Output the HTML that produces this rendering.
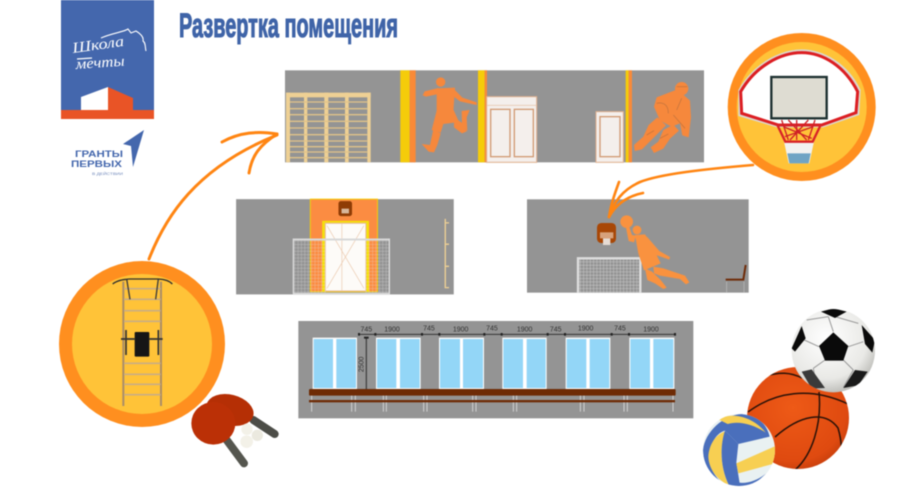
<!DOCTYPE html>
<html lang="ru">
<head>
<meta charset="utf-8">
<title>Развертка помещения</title>
<style>
html,body{margin:0;padding:0;background:#fff;width:900px;height:501px;overflow:hidden}
svg{display:block;filter:blur(.5px)}
text{font-family:"Liberation Sans",sans-serif}
</style>
</head>
<body>
<svg width="900" height="501" viewBox="0 0 900 501" xmlns="http://www.w3.org/2000/svg">
<defs>
<pattern id="gridA" width="10" height="10" patternUnits="userSpaceOnUse">
<path d="M0 0H10M0 0V10" stroke="#e8e8e8" stroke-width="2.2" fill="none"/>
</pattern>
<radialGradient id="sb" cx=".42" cy=".35" r=".75"><stop offset="0" stop-color="#ffffff"/><stop offset=".65" stop-color="#e9e9e6"/><stop offset="1" stop-color="#a9a9a4"/></radialGradient>
<radialGradient id="bb" cx=".45" cy=".4" r=".7"><stop offset="0" stop-color="#ee5a17"/><stop offset=".75" stop-color="#df4a10"/><stop offset="1" stop-color="#b93708"/></radialGradient>
<clipPath id="vc"><circle cx="132" cy="450" r="108"/></clipPath>
<clipPath id="sc"><circle cx="415" cy="152" r="125"/></clipPath>
<clipPath id="bc"><circle cx="798" cy="418" r="51"/></clipPath>
</defs>

<!-- Logo -->
<rect x="61" y="0" width="93" height="110" fill="#4467ad"/>
<rect x="61" y="110" width="93" height="9" fill="#e95426"/>
<polygon points="81,97 108,87 108,110 81,110" fill="#fff"/>
<polygon points="108,87 133,98 133,110 108,110" fill="#e95426"/>
<path d="M101 38C112 33 124 32 128 29L131 33 136 31C141 34 144 37 143 41 146 43 145 48 146 51" fill="none" stroke="#fff" stroke-width="1.1"/>
<text x="73" y="53" font-size="15" fill="#fff" font-style="italic" style="font-family:'Liberation Serif',serif" textLength="52" lengthAdjust="spacingAndGlyphs" transform="rotate(-8 73 53)">Школа</text>
<text x="76" y="69" font-size="15" fill="#fff" font-style="italic" style="font-family:'Liberation Serif',serif" textLength="49" lengthAdjust="spacingAndGlyphs" transform="rotate(-4 76 69)">мечты</text>
<path d="M77 59L92 58" stroke="#fff" stroke-width="1.2"/>

<!-- Grants -->
<path d="M144 130L123 144 131 146 133 167Z" fill="#4467ad"/>
<text x="75" y="157" font-size="9" font-weight="bold" fill="#4467ad" textLength="48" lengthAdjust="spacingAndGlyphs">ГРАНТЫ</text>
<text x="71" y="167" font-size="9" font-weight="bold" fill="#4467ad" textLength="51" lengthAdjust="spacingAndGlyphs">ПЕРВЫХ</text>
<text x="92" y="175" font-size="4" fill="#6f87ba" textLength="31" lengthAdjust="spacingAndGlyphs">В ДЕЙСТВИИ</text>

<!-- Title -->
<text x="179" y="37" font-size="34" font-weight="bold" fill="#3f64a8" stroke="#3f64a8" stroke-width="1.1" textLength="219" lengthAdjust="spacingAndGlyphs">Развертка помещения</text>

<!-- Top panel -->
<g transform="translate(280 60) scale(.33333)">
<rect x="15" y="31" width="1257" height="276" fill="#949494"/>
<rect x="361" y="31" width="28" height="276" fill="#f5cc0a"/><rect x="389" y="31" width="18" height="276" fill="#f98a38"/>
<rect x="594" y="31" width="20" height="276" fill="#f5cc0a"/><rect x="614" y="31" width="7" height="276" fill="#f98a38"/>
<rect x="1037" y="31" width="9" height="276" fill="#f5cc0a"/><rect x="1046" y="31" width="10" height="276" fill="#f98a38"/>
<g fill="#eed094">
<rect x="18" y="98" width="254" height="14"/>
<rect x="18" y="98" width="12" height="209"/><rect x="72" y="98" width="10" height="209"/><rect x="133" y="98" width="12" height="209"/><rect x="195" y="98" width="11" height="209"/><rect x="262" y="98" width="10" height="209"/>
</g>
<g stroke="#e0c288" stroke-width="4">
<path d="M30 126H262M30 146H262M30 164H262M30 184H262M30 204H262M30 224H262M30 243H262M30 260H262M30 276H262M30 293H262"/>
</g>
<rect x="620" y="110" width="150" height="197" fill="#f4efec" stroke="#e0b08e" stroke-width="3"/>
<path d="M622 136H768" stroke="#e8cdb8" stroke-width="3"/>
<rect x="632" y="148" width="58" height="142" fill="#f4efec" stroke="#d19a74" stroke-width="4"/>
<rect x="703" y="148" width="57" height="142" fill="#f4efec" stroke="#d19a74" stroke-width="4"/>
<rect x="948" y="155" width="82" height="152" fill="#f4efec" stroke="#e0b08e" stroke-width="3"/>
<rect x="960" y="170" width="60" height="120" fill="#f4efec" stroke="#d19a74" stroke-width="4"/>
<g fill="#f6883c">
<circle cx="482" cy="66" r="14"/>
<path d="M470 85L525 83 520 155 470 157Z"/>
<path d="M475 84L434 94 428 106 438 110 476 102Z"/>
<path d="M520 85L547 113 590 127 590 135 540 124 515 105Z"/>
<path d="M470 152L520 148 537 186 490 192 482 218 455 210Z"/>
<path d="M460 208L482 220 472 255 462 277 446 275 425 252 450 255Z"/>
<path d="M522 172L545 188 560 214 546 220 522 202Z"/>
<path d="M545 153L569 150 560 172 562 214 546 195Z"/>
<path d="M1130 112L1192 88 1230 122 1233 172 1226 232 1207 226 1200 190 1175 200 1140 182 1122 140Z"/>
<circle cx="1205" cy="86" r="20"/>
<path d="M1132 172L1158 196 1122 232 1086 268 1064 273 1062 255 1090 230 1106 195Z"/>
<path d="M1180 194L1197 212 1170 236 1150 266 1122 279 1112 262 1135 245 1150 210Z"/>
</g>
<g fill="none" stroke="#c9763c" stroke-width="2.5">
<path d="M1190 80H1222M1130 130C1150 125 1165 135 1165 160M1180 165L1215 205M1205 115L1190 150M1100 225L1122 212M1140 235L1165 222"/>
</g>
</g>

<!-- Middle left panel -->
<g transform="translate(230 190) scale(.339)">
<rect x="18" y="27" width="642" height="281" fill="#949494"/>
<rect x="237" y="27" width="198" height="273" fill="#fb8c42" stroke="#f5cc0a" stroke-width="3"/>
<rect x="272" y="91" width="138" height="209" fill="#f5e10a"/>
<rect x="281" y="98" width="120" height="200" fill="#fdfbf8" stroke="#e6b690" stroke-width="3"/>
<path d="M330 98V298M286 290L395 105M286 105L395 290" stroke="#eccbb0" stroke-width="2" fill="none"/>
<rect x="187" y="143" width="95" height="165" fill="url(#gridA)" opacity=".6"/>
<rect x="400" y="143" width="70" height="165" fill="url(#gridA)" opacity=".6"/>
<path d="M187 146H470M187 306H470" stroke="#d8d8d8" stroke-width="6"/>
<path d="M187 143V308M470 143V308" stroke="#dcdcdc" stroke-width="4" fill="none"/>
<rect x="320" y="33" width="40" height="44" rx="7" fill="#8f3c05"/>
<rect x="329" y="55" width="22" height="14" fill="#d8b79b"/>
<path d="M635 85V290M635 97H646M635 160H646M635 225H646M635 288H646" stroke="#eed094" stroke-width="4" fill="none"/>
</g>

<!-- Middle right panel -->
<g transform="translate(570 165) scale(.33333)">
<rect x="-129" y="103" width="665" height="280" fill="#949494"/>
<rect x="24" y="278" width="187" height="105" fill="url(#gridA)" opacity=".8"/>
<path d="M24 383V280H211V383" stroke="#dedede" stroke-width="7" fill="none"/>
<rect x="81" y="174" width="57" height="60" rx="13" fill="#a84706"/>
<rect x="90" y="202" width="40" height="18" fill="#d7a27c"/>
<rect x="99" y="220" width="22" height="20" fill="#e6dcd4"/>
<g fill="#f9923f">
<circle cx="170" cy="170" r="19"/>
<circle cx="201" cy="195" r="13"/>
<path d="M168 188L178 186 186 210 198 212 192 232 176 228Z"/>
<path d="M195 210L225 208 245 240 272 295 222 316 205 265Z"/>
<path d="M230 214L268 258 300 276 298 284 258 270 238 248Z"/>
<path d="M250 305L280 310 345 332 358 352 348 358 330 342 270 332 252 325Z"/>
<path d="M225 310L246 320 272 345 290 368 280 372 255 355 232 345Z"/>
</g>
<path d="M467 344H520L527 300" stroke="#6e2b08" stroke-width="6" fill="none"/>
<path d="M470 350V383M522 350V383" stroke="#bdbdbd" stroke-width="2"/>
</g>

<!-- Bottom panel -->
<g transform="translate(295 315) scale(.33333)">
<rect x="10" y="18" width="1185" height="292" fill="#949494"/>
<g fill="#fff">
<rect x="53" y="68" width="133" height="154"/><rect x="243" y="68" width="134" height="154"/><rect x="432" y="68" width="135" height="154"/><rect x="622" y="68" width="133" height="154"/><rect x="812" y="68" width="134" height="154"/><rect x="1003" y="68" width="135" height="154"/>
</g>
<g fill="#93d6f7">
<rect x="56" y="72" width="58" height="147"/><rect x="124" y="72" width="59" height="147"/>
<rect x="246" y="72" width="58" height="147"/><rect x="315" y="72" width="59" height="147"/>
<rect x="435" y="72" width="60" height="147"/><rect x="504" y="72" width="60" height="147"/>
<rect x="625" y="72" width="59" height="147"/><rect x="695" y="72" width="57" height="147"/>
<rect x="815" y="72" width="59" height="147"/><rect x="884" y="72" width="59" height="147"/>
<rect x="1006" y="72" width="59" height="147"/><rect x="1075" y="72" width="60" height="147"/>
</g>
<rect x="42" y="222" width="1100" height="20" rx="4" fill="#6e2b05"/>
<rect x="42" y="255" width="1098" height="7" fill="#6e2b05"/>
<g stroke="#dcdcdc" stroke-width="2.5">
<path d="M50 242V255M50 262V290M170 242V255M170 262V290M181 242V255M181 262V290M265 242V255M265 262V290M274 242V255M274 262V290M386 242V255M386 262V290M396 242V255M396 262V290M533 242V255M533 262V290M543 242V255M543 262V290M655 242V255M655 262V290M665 242V255M665 262V290M856 242V255M856 262V290M867 242V255M867 262V290M987 242V255M987 262V290M997 242V255M997 262V290M1134 242V255M1134 262V290"/>
</g>
<path d="M190 58H1140" stroke="#333" stroke-width="3"/>
<g fill="#222"><rect x="189" y="54" width="6" height="8"/><rect x="238" y="54" width="6" height="8"/><rect x="378" y="54" width="6" height="8"/><rect x="430" y="54" width="6" height="8"/><rect x="565" y="54" width="6" height="8"/><rect x="617" y="54" width="6" height="8"/><rect x="755" y="54" width="6" height="8"/><rect x="807" y="54" width="6" height="8"/><rect x="947" y="54" width="6" height="8"/><rect x="999" y="54" width="6" height="8"/><rect x="1137" y="54" width="6" height="8"/></g>
<path d="M214 66V222" stroke="#444" stroke-width="4"/>
<rect x="207" y="65" width="14" height="6" fill="#222"/>
<g font-size="21" fill="#333" text-anchor="middle">
<text x="214" y="50">745</text><text x="291" y="50">1900</text><text x="402" y="47">745</text><text x="497" y="50">1900</text><text x="591" y="47">745</text><text x="689" y="50">1900</text><text x="782" y="50">745</text><text x="872" y="47">1900</text><text x="975" y="47">745</text><text x="1068" y="50">1900</text>
</g>
<text transform="translate(205 148) rotate(-90)" font-size="21" fill="#333" text-anchor="middle">2500</text>
</g>

<!-- Left circle -->
<circle cx="142" cy="344" r="83" fill="#ff8f1f"/>
<circle cx="142" cy="344" r="70" fill="#ffc338"/>
<g transform="translate(50 260) scale(.33333)">
<path d="M220 65V438M333 65V438" stroke="#a98d68" stroke-width="6" fill="none"/>
<path d="M222 86H332M222 118H332M222 152H332M222 184H332M222 310H332M222 343H332M222 373H332M222 404H332" stroke="#c9ad83" stroke-width="5" fill="none"/>
<path d="M188 72C200 62 215 58 240 57H325C345 58 358 62 367 72" stroke="#2e2e2e" stroke-width="4" fill="none"/>
<path d="M230 57L240 118M325 57L317 118" stroke="#3a3a3a" stroke-width="4" fill="none"/>
<rect x="254" y="216" width="44" height="74" rx="3" fill="#161616"/>
<path d="M213 237H254M298 237H338M228 210V285M325 210V285" stroke="#333" stroke-width="5" fill="none"/>
</g>

<!-- Rackets -->
<g transform="translate(50 260) scale(.33333)">
<path d="M610 480L674 522" stroke="#4c4d47" stroke-width="24" stroke-linecap="round"/>
<ellipse cx="540" cy="450" rx="72" ry="46" fill="#b52f05" transform="rotate(14 540 450)"/>
<path d="M530 540L582 610" stroke="#55564f" stroke-width="24" stroke-linecap="round"/>
<ellipse cx="490" cy="490" rx="66" ry="64" fill="#bb3006"/>
<circle cx="591" cy="508" r="17" fill="#f3f1e8"/><circle cx="622" cy="526" r="17" fill="#ebe9df"/><circle cx="590" cy="545" r="19" fill="#f3f1e8"/>
</g>

<!-- Right circle / hoop -->
<circle cx="801.7" cy="107" r="74" fill="#ff8f1f"/>
<circle cx="801.7" cy="107" r="65" fill="#ffc338"/>
<g transform="translate(700 30) scale(.33333)">
<path d="M115 180C160 100 240 58 305 58 370 58 445 100 482 180L478 255 370 292H230L115 258Z" fill="#dad7d0"/>
<path d="M122 185C165 110 240 68 305 68 370 68 435 110 473 185L468 248 365 285H235L125 250Z" fill="#fff" stroke="#dc1e22" stroke-width="9"/>
<rect x="214" y="141" width="166" height="124" fill="#dedcd2" stroke="#1d3030" stroke-width="7"/>
<path d="M252 335H342L328 400H266Z" fill="#f2f2f0"/>
<path d="M262 370H332L326 400H268Z" fill="#6fa4c4"/>
<path d="M232 285H362L338 335H256Z" fill="none" stroke="#d82328" stroke-width="7"/>
<path d="M245 270L265 330M290 270V330M345 270L325 330M255 320L340 290M250 290L335 325M265 270L320 330M325 270L270 330" stroke="#cf2026" stroke-width="4" fill="none"/>
</g>

<!-- Arrows -->
<g fill="none" stroke="#ff8512" stroke-linecap="round">
<path d="M149 259C165 218 195 168 277 135" stroke-width="3"/>
<path d="M222 142C240 132 258 131 277 134" stroke-width="3"/>
<path d="M249 173C252 155 260 145 277 134" stroke-width="3"/>
<path d="M753 165C705 169 660 174 640 182 622 190 614 202 609 217" stroke-width="2.6"/>
<path d="M619 182C615 193 611 204 609 217" stroke-width="2.6"/>
<path d="M643 193C628 196 616 204 609 217" stroke-width="2.6"/>
</g>

<!-- Basketball -->
<circle cx="798" cy="418" r="51" fill="url(#bb)"/>
<g clip-path="url(#bc)" fill="none" stroke="#2a1208" stroke-width="1.5">
<path d="M748 412C775 392 810 386 848 404"/>
<path d="M775 437C800 415 825 410 838 428 843 445 842 458 840 468"/>
<path d="M819 392C822 425 812 455 795 470"/>
<path d="M765 376C780 372 790 372 802 378"/>
</g>

<g transform="translate(695 300) scale(.33333)">
<!-- Soccer -->
<circle cx="415" cy="152" r="125" fill="url(#sb)"/>
<g clip-path="url(#sc)">
<path d="M415 95L400 50M460 140L505 125M445 180L475 210M390 180L355 205M372 140L328 120M400 50L335 60M420 50L490 70M355 205L365 265M475 210L445 262" stroke="#999" stroke-width="3" fill="none"/>
<polygon points="415,97 460,138 445,182 390,182 372,138" fill="#0a0a0a"/>
<polygon points="378,35 415,25 455,35 420,54" fill="#0a0a0a"/>
<polygon points="290,145 320,78 332,115 300,155" fill="#0a0a0a"/>
<polygon points="500,75 540,120 532,158 510,132" fill="#0a0a0a"/>
<polygon points="320,215 350,208 390,264 350,266" fill="#3a3a3a"/>
<polygon points="480,210 518,215 490,256 445,264" fill="#1a1a1a"/>
</g>
<!-- Volleyball -->
<circle cx="132" cy="450" r="108" fill="#e9f1f2"/>
<g clip-path="url(#vc)">
<path d="M24 450C30 395 85 345 140 342 185 345 215 370 224 410L130 432 90 392C60 400 42 440 42 480 48 515 70 545 100 560 60 550 24 505 24 450Z" fill="#4a6fbc"/>
<path d="M70 358C110 335 175 350 212 398 175 372 130 362 98 372Z" fill="#f7cf52"/>
<path d="M40 470C42 435 60 405 90 394 74 440 76 505 102 556 68 540 42 510 40 470Z" fill="#f7cf52"/>
<path d="M90 392L130 432 124 488 136 562 102 556C76 505 74 440 90 392Z" fill="#4a6fbc"/>
<path d="M124 490L242 438 240 490 130 520Z" fill="#f7cf52"/>
<path d="M132 548C165 552 200 535 225 510L170 560 125 565Z" fill="#4a6fbc"/>
</g>
</g>
</svg>
</body>
</html>
